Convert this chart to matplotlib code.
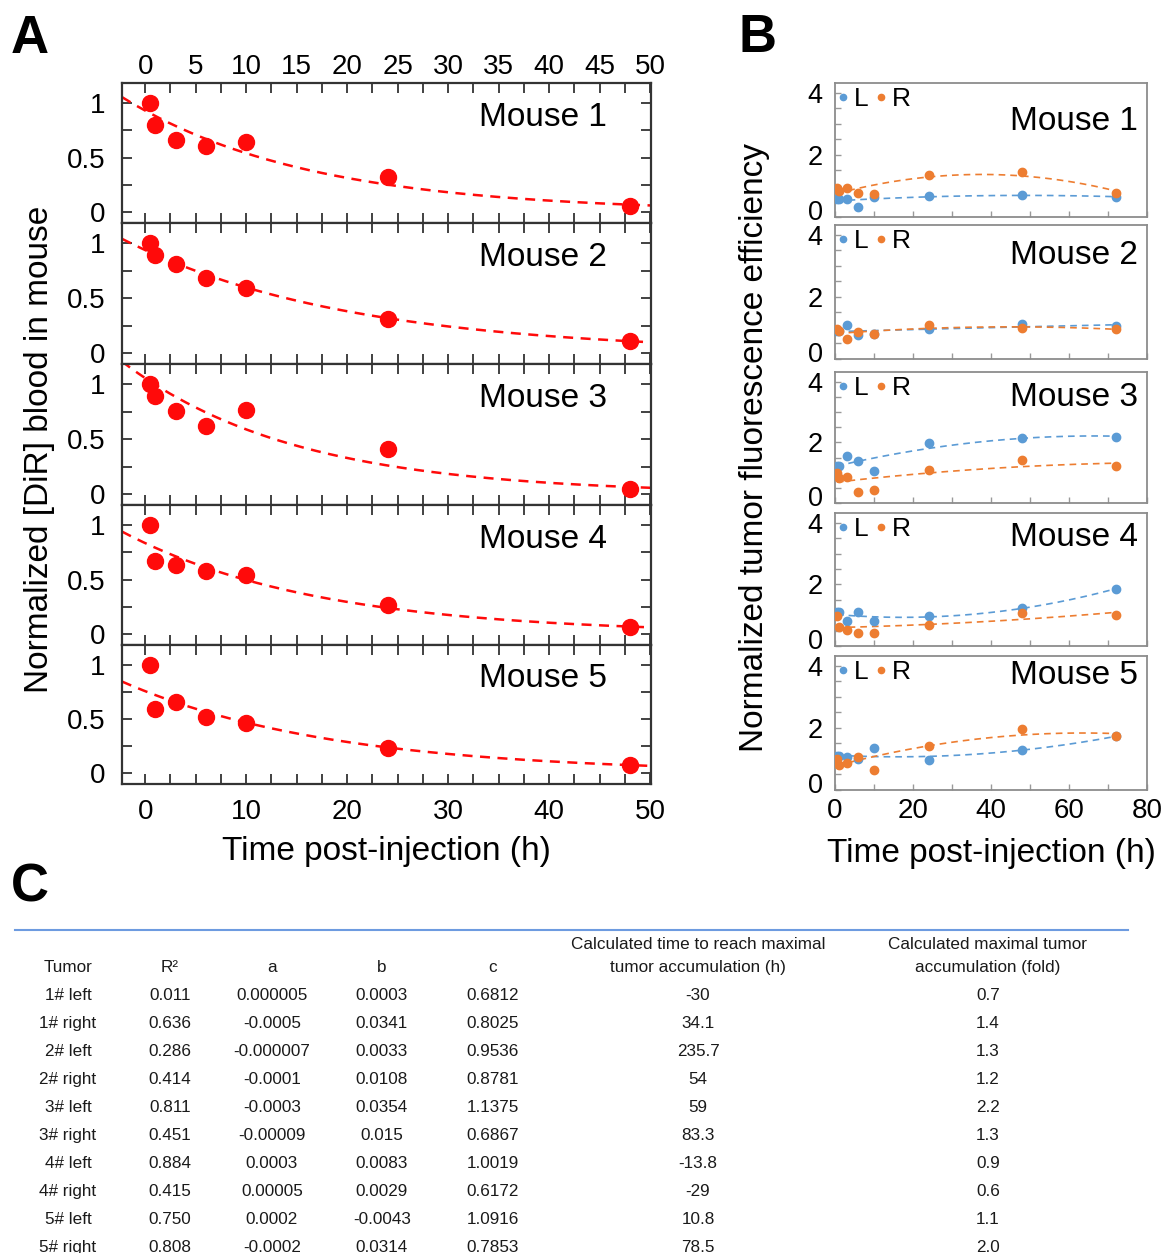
import numpy as np
import matplotlib
matplotlib.use("Agg")
import matplotlib.pyplot as plt
import matplotlib.transforms as mtransforms
from matplotlib.ticker import MultipleLocator, FixedLocator, FuncFormatter
from matplotlib.lines import Line2D

plt.rcParams["font.family"] = ["Liberation Sans", "DejaVu Sans"]

# ---- panel A: normalized [DiR] blood signal ----
TIME_A = [0.5, 1, 3, 6, 10, 24, 48]
BLOOD_M1 = [1.00, 0.80, 0.66, 0.61, 0.64, 0.32, 0.06]
BLOOD_M2 = [1.00, 0.89, 0.81, 0.68, 0.59, 0.31, 0.11]
BLOOD_M3 = [1.00, 0.89, 0.76, 0.62, 0.77, 0.41, 0.05]
BLOOD_M4 = [1.00, 0.67, 0.63, 0.58, 0.54, 0.27, 0.065]
BLOOD_M5 = [1.00, 0.59, 0.66, 0.52, 0.46, 0.23, 0.077]
BLOOD = [BLOOD_M1, BLOOD_M2, BLOOD_M3, BLOOD_M4, BLOOD_M5]

# ---- panel B: normalized tumor fluorescence, left / right tumor ----
TIME_B = [0.5, 1, 3, 6, 10, 24, 48, 72]
LEFT_M1 = [0.57, 0.57, 0.59, 0.32, 0.65, 0.68, 0.70, 0.65]
RIGHT_M1 = [0.92, 0.84, 0.94, 0.76, 0.74, 1.34, 1.46, 0.78]
LEFT_M2 = [0.90, 0.90, 1.09, 0.76, 0.79, 0.96, 1.12, 1.07]
RIGHT_M2 = [0.96, 0.90, 0.64, 0.88, 0.81, 1.09, 1.01, 0.96]
LEFT_M3 = [1.22, 1.22, 1.56, 1.39, 1.06, 1.97, 2.14, 2.19]
RIGHT_M3 = [1.00, 0.83, 0.86, 0.37, 0.44, 1.08, 1.41, 1.22]
LEFT_M4 = [1.10, 1.10, 0.80, 1.10, 0.80, 0.99, 1.24, 1.85]
RIGHT_M4 = [0.99, 0.61, 0.53, 0.41, 0.41, 0.69, 1.07, 1.01]
LEFT_M5 = [1.09, 1.09, 1.06, 1.01, 1.37, 0.97, 1.28, 1.74]
RIGHT_M5 = [0.99, 0.82, 0.88, 1.05, 0.65, 1.42, 1.97, 1.74]
LEFT = [LEFT_M1, LEFT_M2, LEFT_M3, LEFT_M4, LEFT_M5]
RIGHT = [RIGHT_M1, RIGHT_M2, RIGHT_M3, RIGHT_M4, RIGHT_M5]

MICE = ["Mouse 1", "Mouse 2", "Mouse 3", "Mouse 4", "Mouse 5"]

# ---- panel C: quadratic fit table ----
TAB_TUMOR = ["1# left", "1# right", "2# left", "2# right", "3# left",
             "3# right", "4# left", "4# right", "5# left", "5# right"]
TAB_R2 = ["0.011", "0.636", "0.286", "0.414", "0.811",
          "0.451", "0.884", "0.415", "0.750", "0.808"]
TAB_A = ["0.000005", "-0.0005", "-0.000007", "-0.0001", "-0.0003",
         "-0.00009", "0.0003", "0.00005", "0.0002", "-0.0002"]
TAB_B = ["0.0003", "0.0341", "0.0033", "0.0108", "0.0354",
         "0.015", "0.0083", "0.0029", "-0.0043", "0.0314"]
TAB_C = ["0.6812", "0.8025", "0.9536", "0.8781", "1.1375",
         "0.6867", "1.0019", "0.6172", "1.0916", "0.7853"]
TAB_TMAX = ["-30", "34.1", "235.7", "54", "59",
            "83.3", "-13.8", "-29", "10.8", "78.5"]
TAB_FOLD = ["0.7", "1.4", "1.3", "1.2", "2.2",
            "1.3", "0.9", "0.6", "1.1", "2.0"]

W, H = 1165, 1253
RED = "#ff0a0a"
BLUE = "#5b9bd5"
ORANGE = "#ed7d31"


def box(l, t, r, b):
    return [l / W, 1 - b / H, (r - l) / W, (b - t) / H]


def exp_fit(t, y):
    # spreadsheet-style exponential trendline: straight line through ln(y)
    k, ln_a = np.polyfit(t, np.log(y), 1)
    return lambda x: np.exp(ln_a + k * x)


fig = plt.figure(figsize=(W / 100, H / 100), dpi=100)

# ---------------- panel A ----------------
A_TOPS = [83, 223, 364, 505, 645]
A_BOTS = [223, 364, 505, 645, 784]
fmt = FuncFormatter(lambda v, p: f"{v:g}")
for i, (top, bot) in enumerate(zip(A_TOPS, A_BOTS)):
    ax = fig.add_axes(box(122, top, 651, bot))
    ax.plot(TIME_A, BLOOD[i], "o", color=RED, ms=11.5, zorder=3)
    f = exp_fit(TIME_A, BLOOD[i])
    tt = np.linspace(-2.3, 50.1, 200)
    ax.plot(tt, f(tt), "--", color=RED, lw=1.8, dashes=(4, 3), zorder=2)
    ax.set_xlim(-2.3, 50.1)
    ax.set_ylim(-0.1, 1.185)
    ax.yaxis.set_major_locator(MultipleLocator(0.5))
    ax.yaxis.set_minor_locator(MultipleLocator(0.25))
    ax.yaxis.set_major_formatter(fmt)
    if i == 4:
        ax.xaxis.set_major_locator(MultipleLocator(10))
    else:
        ax.xaxis.set_major_locator(MultipleLocator(5))
    ax.xaxis.set_minor_locator(MultipleLocator(2.5))
    ax.xaxis.set_major_formatter(fmt)
    ax.tick_params(which="both", direction="in", top=True, right=True,
                   length=7, width=1.3, color="#333333",
                   labelsize=20, pad=12)
    ax.tick_params(axis="x", labelbottom=(i == 4), labeltop=(i == 0))
    ax.tick_params(axis="x", which="major", pad=2 if i == 0 else 11)
    for s in ax.spines.values():
        s.set_color("#333333")
        s.set_linewidth(1.6)
    ax.text(0.917, 1 - 34 / 140, MICE[i], transform=ax.transAxes,
            ha="right", va="center", fontsize=24)
    if i == 4:
        ax.set_xlabel("Time post-injection (h)", fontsize=24, labelpad=8)

fig.text(40 / W, 1 - 449 / H, "Normalized [DiR] blood in mouse",
         rotation=90, ha="center", va="center", fontsize=24)

# ---------------- panel B ----------------
B_TOPS = [83, 225, 372, 513, 656]
B_BOTS = [217, 359, 503, 646, 790]
B_LABEL_DY = [38, 30, 25, 24, 19]
lift = mtransforms.ScaledTranslation(0, 7 / 100, fig.dpi_scale_trans)
for i, (top, bot) in enumerate(zip(B_TOPS, B_BOTS)):
    ax = fig.add_axes(box(835, top, 1147, bot))
    tt = np.linspace(TIME_B[0], TIME_B[-1], 200)
    for vals, col in ((LEFT[i], BLUE), (RIGHT[i], ORANGE)):
        p = np.polyfit(TIME_B, vals, 2)
        ax.plot(tt, np.polyval(p, tt), "--", color=col, lw=1.2,
                dashes=(4, 3), zorder=2)
    ax.plot(TIME_B, LEFT[i], "o", color=BLUE, ms=6, zorder=3)
    ax.plot(TIME_B, RIGHT[i], "o", color=ORANGE, ms=6, zorder=3)
    ax.set_xlim(0, 80)
    ax.set_ylim(0, 4.32)
    ax.yaxis.set_major_locator(FixedLocator([0, 2, 4]))
    ax.yaxis.set_minor_locator(MultipleLocator(0.5))
    ax.xaxis.set_major_locator(MultipleLocator(20))
    ax.xaxis.set_minor_locator(MultipleLocator(10))
    ax.tick_params(which="both", direction="in", length=4, width=1,
                   color="#999999", labelsize=19.5, pad=9)
    ax.tick_params(axis="x", labelbottom=(i == 4), pad=6, labelsize=20)
    # the "0" label sits a little above the bottom frame, as in the original
    t0 = ax.yaxis.get_major_ticks()[0]
    t0.label1.set_transform(t0.label1.get_transform() + lift)
    for s in ax.spines.values():
        s.set_color("#8c8c8c")
        s.set_linewidth(1.3)
    handles = [Line2D([], [], ls="none", marker="o", ms=4.5, color=BLUE),
               Line2D([], [], ls="none", marker="o", ms=4.5, color=ORANGE)]
    ax.legend(handles, ["L", "R"], loc="upper left", ncol=2, frameon=False,
              fontsize=19, handlelength=0.3, handletextpad=0.25,
              columnspacing=0.35, borderaxespad=0.0, borderpad=0.15)
    ax.text(0.971, 1 - B_LABEL_DY[i] / (bot - top), MICE[i],
            transform=ax.transAxes, ha="right", va="center", fontsize=24)
    if i == 4:
        ax.set_xlabel("Time post-injection (h)", fontsize=24, labelpad=10)

fig.text(755 / W, 1 - 447 / H, "Normalized tumor fluorescence efficiency",
         rotation=90, ha="center", va="center", fontsize=24)

# ---------------- panel letters ----------------
for lab, x, y in (("A", 30, 39), ("B", 758, 38), ("C", 30, 887)):
    fig.text(x / W, 1 - y / H, lab, ha="center", va="center",
             fontsize=38, fontweight="bold")

# ---------------- panel C table ----------------
fig.add_artist(Line2D([15 / W, 1128 / W], [1 - 930 / H, 1 - 930 / H],
                      color="#6d9be0", lw=1.5, transform=fig.transFigure))
TCOL = "#1a1a1a"
TFS = 12.3
col_x = [68, 170, 272, 382, 493, 698, 988]
headers = ["Tumor", "R\u00b2", "a", "b", "c",
           "Calculated time to reach maximal",
           "Calculated maximal tumor"]
headers2 = ["", "", "", "", "", "tumor accumulation (h)",
            "accumulation (fold)"]
for x, h, h2 in zip(col_x, headers, headers2):
    if h2:
        fig.text(x / W, 1 - 949 / H, h, ha="center", va="baseline",
                 fontsize=TFS, color=TCOL)
        fig.text(x / W, 1 - 972 / H, h2, ha="center", va="baseline",
                 fontsize=TFS, color=TCOL)
    else:
        fig.text(x / W, 1 - 972 / H, h, ha="center", va="baseline",
                 fontsize=TFS, color=TCOL)
columns = [TAB_TUMOR, TAB_R2, TAB_A, TAB_B, TAB_C, TAB_TMAX, TAB_FOLD]
for r in range(len(TAB_TUMOR)):
    y = 1000 + 28 * r
    for x, col in zip(col_x, columns):
        fig.text(x / W, 1 - y / H, col[r], ha="center", va="baseline",
                 fontsize=TFS, color=TCOL)

fig.savefig("out.png", dpi=100)
